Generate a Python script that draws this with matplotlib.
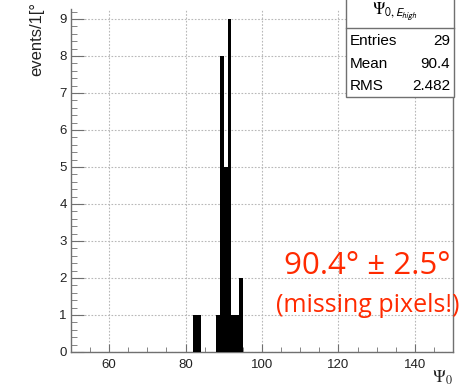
import matplotlib
matplotlib.use("Agg")
import matplotlib.pyplot as plt
from matplotlib.patches import Rectangle
from matplotlib.ticker import MultipleLocator

# histogram content, 1 degree bins (lower edges)
bin_edges_low = [82, 83, 88, 89, 90, 91, 92, 93, 94]
counts = [1, 1, 1, 8, 5, 9, 1, 1, 2]
stat_names = ["Entries", "Mean", "RMS"]
stat_values = ["29", "90.4", "2.482"]

plt.rcParams['font.family'] = ['Liberation Sans', 'DejaVu Sans']
plt.rcParams['mathtext.fontset'] = 'stix'

W, H = 477, 388
fig = plt.figure(figsize=(W / 100, H / 100), dpi=100)
ax = fig.add_axes([71 / W, 1 - 352 / H, (453 - 71) / W, (352 - 9) / H])

ax.bar(bin_edges_low, counts, width=1, align='edge', color='black', zorder=3)

ax.set_xlim(50, 150)
ax.set_ylim(0, 9.27)
ax.xaxis.set_major_locator(MultipleLocator(20))
ax.xaxis.set_minor_locator(MultipleLocator(5))
ax.yaxis.set_major_locator(MultipleLocator(1))
ax.yaxis.set_minor_locator(MultipleLocator(0.2))

ax.grid(True, which='major', color='#b8b8b8', linestyle=(0, (1.5, 1.5)), linewidth=0.8, zorder=0)
axcol = '#707070'
for s in ['left', 'bottom', 'right']:
    ax.spines[s].set_color(axcol)
    ax.spines[s].set_linewidth(1.0)
ax.spines['top'].set_visible(False)

ax.tick_params(axis='both', which='both', direction='in', colors=axcol, labelcolor='#222222', labelsize=9.5)
ax.tick_params(axis='y', which='major', length=9, pad=3)
ax.tick_params(axis='y', which='minor', length=4.5)
ax.tick_params(axis='x', which='major', length=6, pad=5)
ax.tick_params(axis='x', which='minor', length=3.5)

# axis titles
fig.text(37 / W, 1 - 2 / H, "events/1[°", rotation=90, ha='center', va='top', fontsize=12, color='#222222')
fig.text(453 / W, 1 - 378 / H, r"$\Psi_0$", ha='right', va='center', fontsize=12.5, color='#222222')

# stats box
box = Rectangle((346 / W, 1 - 97 / H), (454 - 346) / W, 97 / H + 0.05, transform=fig.transFigure,
                facecolor='white', edgecolor='#707070', linewidth=1.0, zorder=10)
fig.add_artist(box)
fig.add_artist(plt.Line2D([346 / W, 454 / W], [1 - 28 / H, 1 - 28 / H], transform=fig.transFigure,
                          color='#707070', linewidth=1.0, zorder=11))
fig.text(395 / W, 1 - 15 / H, r"$\Psi_{\mathsf{0,E}_{\mathsf{high}}}$", ha='center', va='baseline',
         fontsize=12, zorder=12)
for i in range(len(stat_names)):
    y = 1 - (41 + 22.5 * i) / H
    fig.text(350 / W, y, stat_names[i], ha='left', va='center', fontsize=11, zorder=12)
    fig.text(450 / W, y, stat_values[i], ha='right', va='center', fontsize=11, zorder=12)

# annotation
red = '#ff2a00'
fig.text(367 / W, 1 - 266 / H, "90.4° ± 2.5°", ha='center', va='center', fontsize=22.5,
         color=red, family=['Open Sans', 'DejaVu Sans'], zorder=12)
fig.text(368 / W, 1 - 306 / H, "(missing pixels!)", ha='center', va='center', fontsize=18,
         color=red, family=['Open Sans', 'DejaVu Sans'], zorder=12)

fig.savefig("out.png", dpi=100)
